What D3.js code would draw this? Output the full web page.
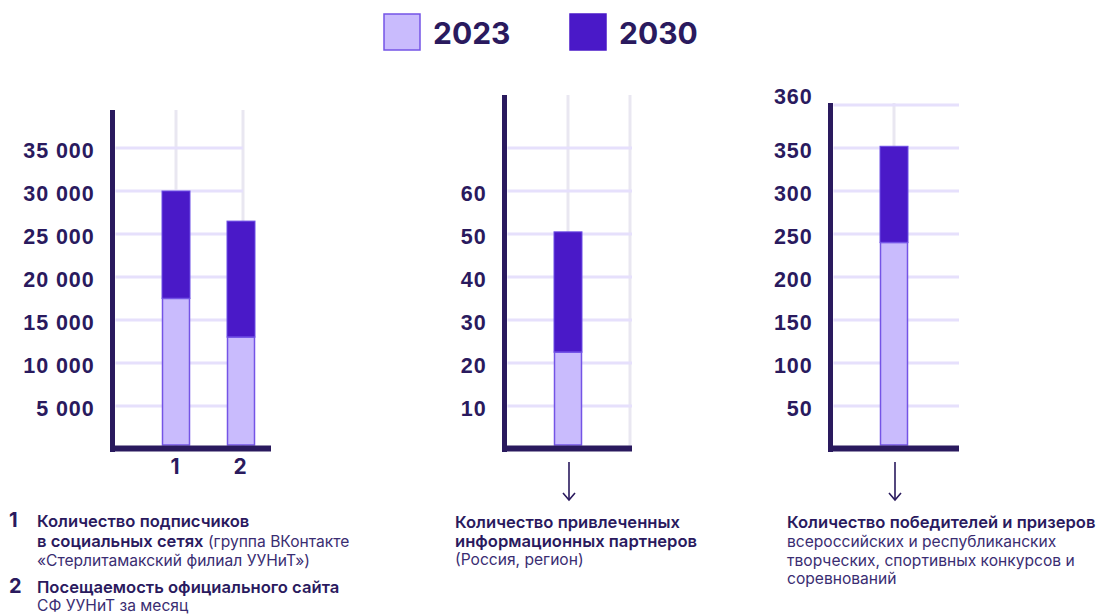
<!DOCTYPE html>
<html><head><meta charset="utf-8">
<script src="https://cdn.jsdelivr.net/npm/d3@7"></script>
<style>
html,body{margin:0;padding:0;background:#fff;}
svg{display:block;font-family:Inter,"Noto Sans",sans-serif;}
</style></head>
<body><svg id="c" width="1101" height="614"></svg>
<script>
// ---- data ----
const seriesNames = ["2023", "2030"];
const leftCategories = ["1", "2"];
const left2023 = [17500, 13000];
const left2030 = [30000, 26500];
const leftTicks = [5000, 10000, 15000, 20000, 25000, 30000, 35000];
const leftTickLabels = ["5 000", "10 000", "15 000", "20 000", "25 000", "30 000", "35 000"];

const midCategories = ["partners"];
const mid2023 = [22.5];
const mid2030 = [50.5];
const midTicks = [10, 20, 30, 40, 50, 60, 70];
const midTickLabels = ["10", "20", "30", "40", "50", "60", ""];

const rightCategories = ["winners"];
const right2023 = [240];
const right2030 = [352];
const rightTicks = [50, 100, 150, 200, 250, 300, 350, 400];
const rightTickLabels = ["50", "100", "150", "200", "250", "300", "350", "360"];

// ---- style ----
const C = {
  text: "#2a1a5e", light: "#c9bbfd", lightStroke: "#7454e6", dark: "#4a19c8",
  hgrid: "#e6e0fc", vgrid: "#e9e7f1", body: "#3a2d72"
};
const svg = d3.select("#c");
const Y0 = 449, YTOP = 105;

function panel(o) {
  const g = svg.append("g");
  const y = d3.scaleLinear().domain([0, o.max]).range([Y0, YTOP]);
  const x = d3.scalePoint().domain(o.cats).range(o.xr);
  // vertical grid
  o.vgrid.forEach(vx => g.append("line").attr("x1", vx).attr("x2", vx)
    .attr("y1", o.axisTop).attr("y2", Y0).attr("stroke", C.vgrid).attr("stroke-width", 3));
  // horizontal grid + ticks
  const ax = d3.axisLeft(y).tickValues(o.ticks).tickSize(0)
    .tickFormat((d, i) => o.labels[i]);
  const ag = g.append("g").attr("transform", `translate(${o.axisX - 15},0)`).call(ax);
  ag.select(".domain").remove();
  ag.selectAll("text").attr("font-size", 21.5).attr("font-weight", 700).attr("fill", C.text)
    .attr("letter-spacing", "0.9px")
    .attr("dy", (d, i) => (o.labelDy && o.labelDy[i] != null ? o.labelDy[i] : "0.42em"));
  g.selectAll(".hg").data(o.ticks).join("line")
    .attr("x1", o.axisX + 3).attr("x2", o.gridR)
    .attr("y1", d => y(d)).attr("y2", d => y(d))
    .attr("stroke", C.hgrid).attr("stroke-width", 3);
  // bars
  const bw = 28;
  o.cats.forEach((c, i) => {
    g.append("rect").attr("x", x(c) - bw / 2).attr("width", bw)
      .attr("y", y(o.v30[i])).attr("height", y(o.v23[i]) - y(o.v30[i]))
      .attr("fill", C.dark).attr("stroke", "#6d4ee6").attr("stroke-width", 1);
    g.append("rect").attr("x", x(c) - bw / 2 + 0.5).attr("width", bw - 1)
      .attr("y", y(o.v23[i])).attr("height", y(0) - 4 - y(o.v23[i]))
      .attr("fill", C.light).attr("stroke", C.lightStroke).attr("stroke-width", 1.5);
  });
  // axes lines
  g.append("line").attr("x1", o.axisX).attr("x2", o.axisX).attr("y1", o.axisTop).attr("y2", Y0 + 3)
    .attr("stroke", C.text).attr("stroke-width", 5);
  g.append("line").attr("x1", o.axisX - 2.5).attr("x2", o.gridR).attr("y1", Y0 - 0.5).attr("y2", Y0 - 0.5)
    .attr("stroke", C.text).attr("stroke-width", 6);
  // category labels
  if (o.showCats) {
    o.cats.forEach(c => g.append("text").attr("x", x(c) - 1).attr("y", 474).attr("text-anchor", "middle")
      .attr("font-size", 21).attr("font-weight", 700).attr("fill", C.text).text(c));
  }
  // arrow
  if (o.arrow) {
    const ax0 = x(o.cats[0]) + 1;
    g.append("line").attr("x1", ax0).attr("x2", ax0).attr("y1", 462).attr("y2", 500)
      .attr("stroke", C.text).attr("stroke-width", 1.6);
    g.append("path").attr("d", `M${ax0 - 6},${493} L${ax0},${500} L${ax0 + 6},${493}`)
      .attr("fill", "none").attr("stroke", C.text).attr("stroke-width", 1.6);
  }
  return g;
}

panel({ max: 40000, cats: leftCategories, xr: [176, 241], v23: left2023, v30: left2030,
  ticks: leftTicks, labels: leftTickLabels, axisX: 112.5, axisTop: 110, gridR: 271,
  vgrid: [176, 243], showCats: true });
svg.selectAll("line").filter(function(){return +this.getAttribute("x2")===271 && this.getAttribute("stroke")===C.hgrid;})
  .attr("x2", 243);

panel({ max: 80, cats: midCategories, xr: [568, 568], v23: mid2023, v30: mid2030,
  ticks: midTicks, labels: midTickLabels, axisX: 504.5, axisTop: 95, gridR: 632,
  vgrid: [568, 630], arrow: true });

panel({ max: 400, cats: rightCategories, xr: [894, 894], v23: right2023, v30: right2030,
  ticks: rightTicks, labels: rightTickLabels, axisX: 830.5, axisTop: 103, gridR: 959,
  vgrid: [894], arrow: true, labelDy: [null, null, null, null, null, null, null, "-0.05em"] });

// ---- legend ----
const lg = svg.append("g");
[[383, C.light, C.lightStroke], [569, C.dark, C.dark]].forEach((s, i) => {
  lg.append("rect").attr("x", s[0] + 1).attr("y", 14).attr("width", 36).attr("height", 36)
    .attr("fill", s[1]).attr("stroke", s[2]).attr("stroke-width", 1.5);
  lg.append("text").attr("x", s[0] + 50).attr("y", 44).attr("font-size", 30).attr("font-weight", 700)
    .attr("fill", C.text).text(seriesNames[i]);
});

// ---- captions ----
function caption(x, lines) {
  lines.forEach(l => {
    const t = svg.append("text").attr("x", x).attr("y", l.y).attr("fill", C.text);
    l.parts.forEach(p => t.append("tspan").attr("font-weight", p[1])
      .attr("font-size", p[1] >= 600 ? 16.6 : 15.6)
      .attr("fill", p[1] >= 600 ? C.text : C.body).text(p[0]));
  });
}
svg.append("text").attr("x", 9).attr("y", 527).attr("font-size", 20).attr("font-weight", 700).attr("fill", C.text).text("1");
svg.append("text").attr("x", 9).attr("y", 593).attr("font-size", 20).attr("font-weight", 700).attr("fill", C.text).text("2");
caption(37, [
  { y: 527, parts: [["Количество подписчиков", 600]] },
  { y: 547, parts: [["в социальных сетях", 600], [" (группа ВКонтакте", 400]] },
  { y: 566, parts: [["«Стерлитамакский филиал УУНиТ»)", 400]] },
  { y: 593, parts: [["Посещаемость официального сайта", 600]] },
  { y: 611, parts: [["СФ УУНиТ за месяц", 400]] }
]);
caption(455, [
  { y: 528, parts: [["Количество привлеченных", 600]] },
  { y: 547, parts: [["информационных партнеров", 600]] },
  { y: 565, parts: [["(Россия, регион)", 400]] }
]);
caption(787, [
  { y: 528, parts: [["Количество победителей и призеров", 600]] },
  { y: 547, parts: [["всероссийских и республиканских", 400]] },
  { y: 566, parts: [["творческих, спортивных конкурсов и", 400]] },
  { y: 584, parts: [["соревнований", 400]] }
]);
</script></body></html>
